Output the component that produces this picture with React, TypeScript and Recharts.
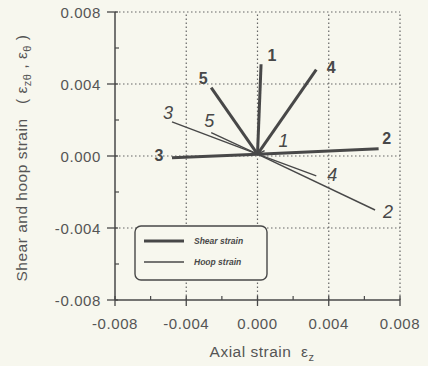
import { ScatterChart, Scatter, XAxis, YAxis, ReferenceLine, Legend } from "recharts";

// curve numbers, end points of each strain path (they all start at the origin)
const curveIds = ["1", "2", "3", "4", "5"];
const origin = [0, 0.0001];
const shearEndX = [0.0002, 0.0068, -0.0048, 0.0033, -0.0026];
const shearEndY = [0.0051, 0.0004, -0.0001, 0.0048, 0.0038];
const hoopEndX = [0.0004, 0.0066, -0.0048, 0.0033, -0.0026];
const hoopEndY = [0.0003, -0.003, 0.0019, -0.0011, 0.0013];
const seriesNames = ["Shear strain", "Hoop strain"];

const xTicks = [-0.008, -0.006, -0.004, -0.002, 0, 0.002, 0.004, 0.006, 0.008];
const yTicks = [-0.008, -0.006, -0.004, -0.002, 0, 0.002, 0.004, 0.006, 0.008];
const gridX = [-0.004, 0, 0.004, 0.008];
const gridY = [0.008, 0.004, 0, -0.004];

const INK = "#484848";
const BG = "#f7f7ee";
const FONT = "'Liberation Sans', Arial, sans-serif";

// where each curve number sits relative to the end of its line
const labelOffset: Record<string, [number, number]> = {
  s1: [11, -9],
  s2: [8, -10],
  s3: [-13, -2],
  s4: [15, -2],
  s5: [-8, -9],
  h1: [19, -10],
  h2: [13, 2],
  h3: [-4, -9],
  h4: [16, -1],
  h5: [-2, -12],
};

const isMajor = (v: number) => Math.abs(v / 0.004 - Math.round(v / 0.004)) < 1e-6;

function segment(ex: number[], ey: number[], i: number, kind: string) {
  return [
    { x: origin[0], y: origin[1] },
    { x: ex[i], y: ey[i], label: curveIds[i], key: kind + curveIds[i] },
  ];
}

function endLabel(kind: string) {
  return (props: any) => {
    const { cx, cy, payload } = props;
    if (!payload || !payload.label) return <g />;
    const [dx, dy] = labelOffset[payload.key];
    const shear = kind === "s";
    return (
      <text
        x={cx + dx}
        y={cy + dy}
        textAnchor="middle"
        dominantBaseline="central"
        fontFamily={FONT}
        fontSize={shear ? 16 : 18}
        fontWeight={shear ? "bold" : "normal"}
        fontStyle={shear ? "normal" : "italic"}
        fill={INK}
      >
        {payload.label}
      </text>
    );
  };
}

function XTick({ x, y, payload }: any) {
  const v = payload.value;
  const major = isMajor(v);
  return (
    <g>
      {major ? (
        <line x1={x} x2={x} y1={y - 4} y2={y + 6} stroke={INK} strokeWidth={1.3} />
      ) : (
        <line x1={x} x2={x} y1={y - 4} y2={y} stroke={INK} strokeWidth={1.2} />
      )}
      {major && (
        <text x={x} y={y + 29} textAnchor="middle" fontFamily={FONT} fontSize={15} letterSpacing={0.6} fill="#555">
          {v.toFixed(3)}
        </text>
      )}
    </g>
  );
}

function YTick({ x, y, payload }: any) {
  const v = payload.value;
  const major = isMajor(v);
  return (
    <g>
      {major ? (
        <line x1={x - 8} x2={x + 3} y1={y} y2={y} stroke={INK} strokeWidth={1.3} />
      ) : (
        <line x1={x} x2={x + 4} y1={y} y2={y} stroke={INK} strokeWidth={1.2} />
      )}
      {major && (
        <text x={x - 14} y={y} textAnchor="end" dominantBaseline="central" fontFamily={FONT} fontSize={15} letterSpacing={0.6} fill="#555">
          {v.toFixed(3)}
        </text>
      )}
    </g>
  );
}

function LegendBox() {
  return (
    <svg width={134} height={56} style={{ display: "block" }}>
      <rect x={1} y={1} width={132} height={54} rx={6} fill={BG} stroke={INK} strokeWidth={1.4} />
      <line x1={10} x2={50} y1={16} y2={16} stroke={INK} strokeWidth={3} />
      <line x1={10} x2={50} y1={37} y2={37} stroke={INK} strokeWidth={1.3} />
      <text x={60} y={16} dominantBaseline="central" fontFamily={FONT} fontSize={8.5} fontStyle="italic" fontWeight="bold" fill={INK}>
        {seriesNames[0]}
      </text>
      <text x={60} y={37} dominantBaseline="central" fontFamily={FONT} fontSize={8.5} fontStyle="italic" fontWeight="bold" fill={INK}>
        {seriesNames[1]}
      </text>
    </svg>
  );
}

export default function App() {
  return (
    <div style={{ width: 428, height: 366, background: BG, position: "relative" }}>
      <style>{`body{margin:0}`}</style>
      <ScatterChart width={428} height={366} margin={{ top: 12, right: 28, left: 0, bottom: 0 }}>
        <XAxis
          type="number"
          dataKey="x"
          domain={[-0.008, 0.008]}
          ticks={xTicks}
          interval={0}
          tickSize={0}
          tickMargin={0}
          tick={<XTick />}
          tickLine={false}
          axisLine={{ stroke: INK, strokeWidth: 1.5 }}
          height={66}
          allowDataOverflow
        />
        <YAxis
          type="number"
          dataKey="y"
          domain={[-0.008, 0.008]}
          ticks={yTicks}
          interval={0}
          tickSize={0}
          tickMargin={0}
          tick={<YTick />}
          tickLine={false}
          axisLine={{ stroke: INK, strokeWidth: 1.5 }}
          width={115}
          allowDataOverflow
        />
        {gridX.map((v) => (
          <ReferenceLine key={"gx" + v} x={v} stroke="#666" strokeWidth={1.2} strokeDasharray="1.5 2.5" ifOverflow="extendDomain" />
        ))}
        {gridY.map((v) => (
          <ReferenceLine key={"gy" + v} y={v} stroke="#666" strokeWidth={1.2} strokeDasharray="1.5 2.5" ifOverflow="extendDomain" />
        ))}
        {curveIds.map((id, i) => (
          <Scatter
            key={"h" + id}
            name={seriesNames[1]}
            data={segment(hoopEndX, hoopEndY, i, "h")}
            line={{ stroke: INK, strokeWidth: 1.4 }}
            lineType="joint"
            shape={endLabel("h")}
            legendType="none"
            isAnimationActive={false}
          />
        ))}
        {curveIds.map((id, i) => (
          <Scatter
            key={"s" + id}
            name={seriesNames[0]}
            data={segment(shearEndX, shearEndY, i, "s")}
            line={{ stroke: INK, strokeWidth: 3 }}
            lineType="joint"
            shape={endLabel("s")}
            legendType="none"
            isAnimationActive={false}
          />
        ))}
        <Legend
          content={<LegendBox />}
          layout="vertical"
          align="center"
          verticalAlign="middle"
          wrapperStyle={{ position: "absolute", left: 134, top: 225, width: 134, height: 56 }}
        />
      </ScatterChart>
      <svg width={428} height={366} style={{ position: "absolute", left: 0, top: 0, pointerEvents: "none" }}>
        <text x={262} y={357} textAnchor="middle" fontFamily={FONT} fontSize={15.5} letterSpacing={0.5} fill="#555">
          Axial strain{"\u00a0\u00a0"}ε<tspan dy={4} fontSize={11}>z</tspan>
        </text>
        <text
          transform="translate(27,158) rotate(-90)"
          textAnchor="middle"
          fontFamily={FONT}
          fontSize={15.5}
          letterSpacing={0.5}
          fill="#555"
        >
          Shear and hoop strain{"\u00a0\u00a0\u00a0"}(
          {"\u00a0"}ε<tspan dy={4} fontSize={11}>zθ</tspan>
          <tspan dy={-4}>{"\u00a0"},{"\u00a0"}ε</tspan>
          <tspan dy={4} fontSize={11}>θ</tspan>
          <tspan dy={-4}>{"\u00a0"})</tspan>
        </text>
      </svg>
    </div>
  );
}
